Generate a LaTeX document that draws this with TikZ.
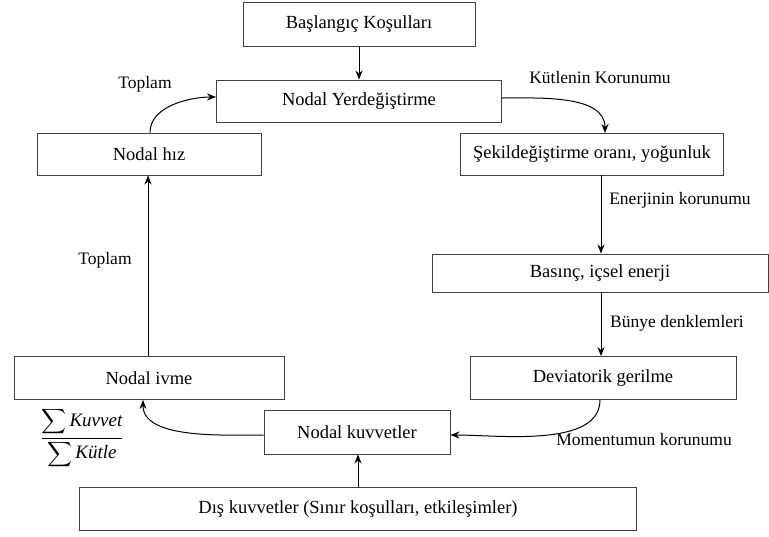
\documentclass[tikz,border=0pt]{standalone}
\usepackage{fontspec}
\usepackage{amsmath}
\setmainfont{Liberation Serif}
\usetikzlibrary{arrows.meta}
\begin{document}
\begin{tikzpicture}[x=1pt,y=-1pt,
  box/.style={draw=black!75,line width=0.9pt,fill=white,minimum height=#1,inner sep=0pt,font=\fontsize{18.5}{22}\selectfont},
  box/.default=40pt,
  lbl/.style={font=\fontsize{17.5}{21}\selectfont,inner sep=0pt},
  arr/.style={-{Stealth[length=9pt,width=7pt]},line width=1pt}]
\useasboundingbox (0,0) rectangle (769,536);
\node[box=44pt,minimum width=232pt] (bas) at (359,24) {Başlangıç Koşulları};
\node[box=42pt,minimum width=285pt] (yer) at (359,101) {Nodal Yerdeğiştirme};
\node[box=42pt,minimum width=224pt] (hiz) at (149,154) {Nodal hız};
\node[box=42pt,minimum width=263pt] (sek) at (592,154) {Şekildeğiştirme oranı, yoğunluk};
\node[box=38pt,minimum width=336pt] (basinc) at (600,273) {Basınç, içsel enerji};
\node[box=43pt,minimum width=266pt] (dev) at (603,378) {Deviatorik gerilme};
\node[box=43pt,minimum width=270pt] (ivme) at (149,378) {Nodal ivme};
\node[box=44pt,minimum width=186pt] (kuv) at (357,432) {Nodal kuvvetler};
\node[box=43pt,minimum width=557pt] (dis) at (358,509) {Dış kuvvetler (Sınır koşulları, etkileşimler)};

\node[lbl] (t1) at (145,84) {Toplam};
\node[lbl] (kk) at (600,78) {Kütlenin Korunumu};
\node[lbl] (ek) at (680,200) {Enerjinin korunumu};
\node[lbl] (t2) at (105,260) {Toplam};
\node[lbl] (bd) at (677,323) {Bünye denklemleri};
\node[lbl] (mk) at (644,440) {Momentumun korunumu};
\node[inner sep=0pt,font=\fontsize{19}{23}\selectfont] (fr) at (82,438) {$\dfrac{\displaystyle\sum \textit{Kuvvet}}{\displaystyle\sum \textit{Kütle}}$};

\draw[arr] (bas.south) -- (yer.north);
\draw[arr] (yer.east |- 0,98) to[out=0,in=90,looseness=0.9] (605,133);
\draw[arr] (sek.south -| 601,0) -- (basinc.north -| 601,0);
\draw[arr] (basinc.south -| 601,0) -- (dev.north -| 601,0);
\draw[arr] (dev.south -| 600,0) to[out=-90,in=0,looseness=0.8] (kuv.east |- 0,435);
\draw[arr] (kuv.west |- 0,435) to[out=180,in=-90,looseness=0.8] (ivme.south -| 143,0);
\draw[arr] (dis.north) -- (kuv.south -| dis.north);
\draw[arr] (ivme.north -| 148,0) -- (hiz.south -| 148,0);
\draw[arr] (hiz.north -| 150,0) to[out=90,in=180,looseness=0.9] (yer.west |- 0,97);
\end{tikzpicture}
\end{document}
